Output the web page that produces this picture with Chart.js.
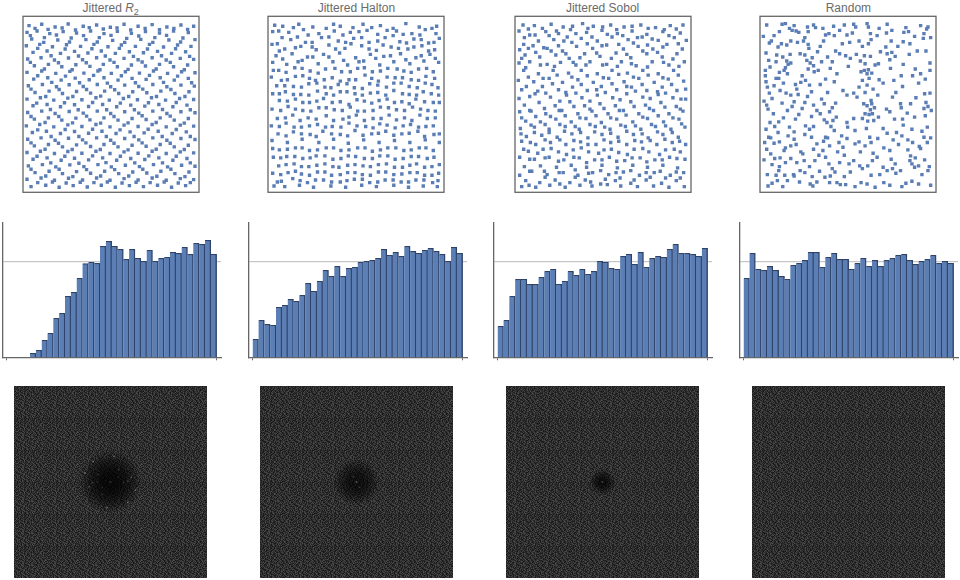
<!DOCTYPE html>
<html>
<head>
<meta charset="utf-8">
<script src="https://cdn.jsdelivr.net/npm/chart.js@4"></script>
<style>
  html, body { margin: 0; padding: 0; background: #fff; }
  canvas { position: absolute; }
  .ttl { position: absolute; top: 1px; width: 176px; text-align: center; font: 12px/14px "Liberation Sans", Arial, sans-serif; color: #6b6b6b; white-space: nowrap; }
  .ttl sub { font-size: 9px; line-height: 0; }
</style>
</head>
<body>
<script>
// titles of the four columns
const titles = ["Jittered <i>R</i><sub>2</sub>", "Jittered Halton", "Jittered Sobol", "Random"];

// top row: hand estimated dots, thinner than the real set (too many to read one by one)
// flat x,y pairs, one line per rough row
const r2Points = [
34,42,72,38,112,46,151,37,196,44,236,40,277,47,318,38,360,44,402,39,446,46,488,40,526,44,
28,62,58,58,96,66,136,60,176,64,218,58,258,66,298,59,340,65,382,60,424,64,466,58,510,63,
42,82,80,78,120,85,160,79,204,84,244,78,284,86,326,80,368,83,410,78,452,85,494,79,530,84,
26,102,66,98,104,105,146,99,188,104,228,98,270,105,310,100,352,104,394,98,436,106,478,100,518,104,
46,122,88,118,128,125,170,119,210,124,250,118,292,125,334,120,376,123,418,119,460,125,502,120,
30,142,70,138,110,145,152,139,194,144,236,138,276,145,318,140,360,144,402,138,444,145,486,140,526,143,
50,162,92,158,132,165,174,159,216,164,256,158,298,165,340,160,382,163,424,158,466,165,508,160,
28,182,72,178,114,185,156,179,198,184,240,178,280,185,322,180,364,184,406,178,448,185,490,180,530,183,
48,202,90,198,130,205,172,199,214,204,258,198,300,205,342,200,384,203,426,198,468,205,510,200,
32,222,74,218,116,225,154,219,196,224,238,218,278,225,320,220,362,224,404,218,446,225,488,220,528,223,
52,242,94,238,134,245,176,239,218,244,260,238,302,245,344,240,386,243,428,238,470,245,512,240,
28,262,68,258,108,265,150,259,192,264,234,258,274,265,316,260,358,264,400,258,442,265,484,260,526,263,
46,282,88,278,128,285,170,279,212,284,254,278,296,285,338,280,380,283,422,278,464,285,506,280,
30,302,72,298,112,305,154,299,196,304,238,298,278,305,320,300,362,304,404,298,446,305,488,300,530,303,
50,322,92,318,132,325,174,319,216,324,258,318,300,325,342,320,384,323,426,318,468,325,510,320,
26,342,66,338,108,345,150,339,192,344,234,338,276,345,318,340,360,344,402,338,444,345,486,340,526,343,
44,362,86,358,128,365,170,359,212,364,252,358,294,365,336,360,378,363,420,358,462,365,504,360,
30,382,70,378,112,385,152,379,194,384,236,378,278,385,320,380,362,384,404,378,446,385,488,380,530,383,
50,402,92,398,134,405,176,399,218,404,258,398,300,405,342,400,384,403,426,398,468,405,510,400,
28,422,68,418,110,425,150,419,192,424,234,418,276,425,318,420,360,424,402,418,444,425,486,420,526,423,
46,442,88,438,130,445,170,439,212,444,254,438,296,445,338,440,380,443,422,438,464,445,506,440,
32,462,74,458,114,465,156,459,198,464,240,458,280,465,322,460,364,464,406,458,448,465,490,460,530,463,
52,482,94,478,134,485,176,479,218,484,260,478,302,485,344,480,386,483,428,478,470,485,512,480,
28,502,70,498,110,505,152,499,194,504,236,498,276,505,318,500,360,504,402,498,444,505,486,500,526,503,
40,524,84,520,124,526,166,521,208,525,250,520,292,526,334,521,376,524,418,520,460,526,502,521
];
const r2Extra = [
52,50,91,53,133,49,173,55,214,48,256,52,297,49,338,55,381,50,424,54,467,50,508,53,
38,72,78,92,116,70,155,91,197,72,238,91,279,71,320,92,362,73,404,92,445,71,487,91,
60,110,100,132,142,112,182,133,222,111,262,133,304,110,346,134,388,112,430,132,472,111,514,134,
38,152,80,172,122,153,163,174,205,153,246,174,288,152,330,173,372,151,414,172,456,152,498,174,
60,192,102,212,143,193,185,213,227,191,268,214,310,192,352,213,394,191,436,212,478,193,520,213,
40,232,84,254,124,233,165,254,206,233,248,253,290,234,332,254,374,232,415,254,458,233,500,254,
57,274,98,293,140,273,181,294,224,272,266,294,307,274,349,294,391,273,433,293,474,272,516,294,
40,314,82,332,123,314,164,333,206,313,248,334,288,314,330,333,372,312,414,332,456,313,498,334,
60,354,100,374,142,353,183,374,224,352,265,374,306,354,348,374,390,352,432,374,474,353,516,374,
40,393,82,412,122,394,163,413,204,393,247,413,288,394,330,414,372,393,414,412,456,394,498,413,
58,433,99,453,141,433,183,454,224,432,264,452,307,433,350,453,392,432,433,453,474,433,516,453,
40,472,84,492,124,472,165,494,206,473,248,492,290,473,332,492,374,472,416,493,458,472,500,494,
60,512,104,510,145,513,187,511,228,512,268,510,312,513,354,511,396,512,438,510,480,513,516,512
];

const haltonPoints = [
36,41,60,44,108,38,150,46,212,38,232,44,270,48,300,38,352,42,390,50,428,36,468,46,520,44,
30,60,78,62,122,54,168,66,214,58,262,62,312,56,344,68,400,58,446,66,486,54,518,66,
44,96,84,84,128,92,176,78,226,88,272,80,318,92,366,78,410,90,452,82,496,94,528,80,
28,98,66,112,114,104,160,114,198,100,246,110,296,102,340,116,384,106,434,112,476,102,514,114,
40,132,88,126,134,136,182,128,230,124,278,138,322,128,362,134,412,126,458,138,500,128,
30,152,72,158,118,146,166,156,210,150,254,160,302,148,350,160,392,150,440,156,482,148,526,152,
48,176,96,168,142,178,188,172,236,180,284,170,328,180,374,170,422,178,466,172,510,180,
26,196,74,204,120,192,158,206,208,198,258,204,306,190,346,208,396,198,444,204,488,194,
42,222,92,224,138,216,186,226,226,218,274,228,320,216,370,226,414,214,462,228,506,218,
30,246,68,240,114,248,164,238,212,250,252,240,298,250,344,242,392,236,438,248,480,240,526,250,
50,266,98,262,140,272,182,260,232,270,282,264,326,274,372,262,416,270,458,262,510,272,
28,292,76,284,120,296,168,288,214,294,262,286,304,298,352,286,400,294,448,286,494,296,
44,320,90,310,136,318,190,312,240,322,280,310,330,320,378,310,424,318,470,310,516,318,
26,342,70,334,116,346,164,338,208,344,258,334,308,344,350,336,396,348,442,338,488,344,
46,366,92,360,142,368,180,358,232,368,276,356,326,366,368,358,416,366,464,358,512,368,
28,386,74,392,118,382,168,392,212,382,256,394,302,384,348,392,394,386,440,392,486,384,528,392,
50,414,98,408,140,416,190,408,234,416,284,408,328,418,374,408,422,416,468,408,510,416,
32,436,72,434,120,440,160,432,210,442,256,432,304,440,350,432,396,442,444,434,492,440,
48,462,94,456,138,464,186,456,228,466,276,458,322,464,370,456,418,466,460,456,506,464,
30,484,76,482,116,486,164,480,206,490,254,482,298,488,346,480,392,488,440,482,484,490,526,484,
44,510,90,500,134,512,182,504,232,510,274,502,320,512,366,504,414,510,458,504,508,512,
34,522,66,524,110,520,152,526,204,522,248,526,296,520,340,524,392,520,436,526,480,522,522,524
];
const haltonExtra = [
48,58,92,48,136,70,190,50,240,70,288,60,326,48,372,56,420,68,470,70,506,50,
58,78,104,76,148,92,198,76,248,92,296,78,344,88,390,72,430,94,474,84,512,92,
50,118,98,108,148,106,218,112,264,96,318,112,360,100,406,110,452,106,496,118,
60,142,106,150,150,136,198,136,242,146,288,150,338,140,382,132,428,144,474,132,516,140,
32,176,70,182,118,170,166,184,216,170,262,180,304,168,352,178,402,172,444,182,490,170,
56,206,98,194,140,200,184,204,232,208,278,204,326,200,372,196,418,198,466,206,514,200,
66,222,116,226,162,214,204,228,252,216,298,230,344,220,392,214,438,224,486,214,524,228,
50,246,92,248,138,250,190,246,232,240,276,246,322,244,368,250,418,246,460,250,504,246,
74,268,120,272,162,268,208,272,258,278,304,268,348,266,394,272,438,276,484,270,528,272,
54,296,98,292,144,298,190,288,238,296,284,298,330,296,376,288,424,296,472,292,516,298,
68,318,112,326,160,322,212,326,258,316,304,326,354,320,400,324,446,326,492,320,
50,344,94,346,140,342,188,346,234,346,282,342,330,348,372,340,420,342,466,346,510,342,
70,372,116,366,160,374,206,366,254,372,300,370,346,364,392,370,438,364,484,374,528,366,
30,410,74,412,118,408,164,414,212,408,258,414,306,408,352,414,398,408,444,414,488,408,
54,438,96,434,142,438,186,432,234,440,278,434,328,440,374,432,420,440,466,434,512,436,
70,458,116,464,162,460,210,464,254,460,300,462,346,458,394,466,440,460,484,466,528,458,
54,488,98,478,140,490,186,480,232,488,276,482,322,490,368,480,416,486,462,482,506,490,
56,508,112,506,158,504,206,510,252,506,298,502,344,510,390,504,436,510,482,504,524,506
];

const sobolPoints = [
40,40,74,42,124,38,160,46,218,36,250,44,302,40,342,46,392,40,436,48,480,42,518,40,
28,58,60,70,108,60,146,66,182,54,230,62,276,56,322,66,366,58,410,68,462,54,510,64,
42,98,86,88,132,84,172,76,214,80,262,88,306,76,354,84,396,76,444,86,492,78,528,86,
30,114,70,102,112,110,158,118,200,104,248,110,290,100,340,112,384,104,428,112,470,98,516,112,
46,130,90,136,138,130,178,140,224,126,270,134,318,124,362,138,410,126,456,136,500,126,
28,154,60,150,112,158,152,152,198,160,240,150,290,158,334,150,378,162,426,150,476,160,522,150,
42,176,86,186,130,176,176,184,214,176,262,186,306,176,352,184,398,176,444,186,490,176,
26,206,72,210,118,200,158,212,204,204,250,212,296,200,342,210,386,200,432,212,474,202,520,208,
50,224,98,224,146,234,188,226,232,236,274,224,320,234,364,226,410,236,456,226,500,236,
28,260,76,246,122,256,170,250,216,258,262,250,308,258,350,246,398,256,444,248,488,258,
44,280,88,272,136,282,180,270,224,282,270,276,316,282,362,270,406,280,452,272,498,284,526,262,
30,300,64,298,108,306,156,296,204,306,246,298,294,306,340,296,386,306,430,296,476,306,518,298,
48,328,92,330,138,322,184,330,228,320,274,332,320,322,368,330,412,320,460,330,506,322,
32,350,74,346,118,352,166,344,208,352,256,344,300,352,346,344,392,352,436,344,482,352,524,346,
50,374,96,370,142,376,186,366,234,378,276,368,324,376,370,368,414,378,458,368,504,376,
36,388,78,398,122,392,168,398,212,390,258,398,302,392,350,398,394,390,440,398,486,392,526,398,
56,418,100,412,146,420,190,414,236,420,282,414,326,422,372,412,416,420,466,414,510,420,
30,436,74,442,118,436,162,444,208,438,254,444,298,436,344,446,390,438,434,444,478,436,524,442,
44,464,92,462,140,466,184,460,230,466,276,460,322,468,368,460,412,466,458,460,502,468,
30,490,66,478,112,488,160,482,204,490,248,482,296,488,340,480,388,490,432,482,480,490,520,482,
48,506,90,512,136,504,180,512,226,504,272,516,316,506,362,514,408,504,454,514,498,506,
36,524,78,526,120,520,166,526,210,520,246,522,292,518,332,522,382,524,430,522,476,526,522,524
];
const sobolExtra = [
56,52,98,50,140,58,188,44,234,50,278,46,320,54,366,44,414,50,458,60,498,52,
44,78,76,70,118,72,162,88,198,66,246,76,292,68,338,72,382,78,426,82,476,72,
56,110,102,108,146,102,186,92,232,96,276,102,326,98,370,94,412,100,458,106,504,96,
36,140,78,122,124,118,168,126,210,138,260,124,304,140,350,128,398,118,442,122,488,142,
48,168,92,160,134,164,190,152,228,160,278,160,322,164,364,156,412,166,460,152,506,164,
56,196,100,200,142,190,186,196,232,192,280,198,326,188,370,196,414,190,458,198,504,190,
36,234,84,238,128,216,168,242,214,218,260,234,306,216,350,224,396,218,442,240,484,218,526,232,
60,254,108,244,150,268,198,244,240,268,286,242,330,264,376,238,420,260,466,244,512,262,
60,296,104,290,148,296,192,284,240,292,282,290,328,296,372,284,418,290,464,286,510,292,
36,318,78,314,122,314,166,312,210,318,258,312,302,318,348,310,398,316,444,312,488,318,
64,340,106,338,150,338,196,344,240,338,284,346,332,340,376,342,424,338,466,342,514,336,
34,366,74,362,118,362,164,358,212,362,254,360,302,364,350,358,396,366,442,360,486,362,
62,392,106,384,150,384,192,386,234,398,282,384,326,388,374,386,420,386,464,382,508,388,
42,412,84,424,124,410,170,428,214,408,266,424,304,412,352,428,398,410,448,428,492,412,
60,442,106,438,146,448,192,436,230,452,276,444,320,448,366,438,410,450,456,444,500,440,
60,478,104,478,148,482,196,474,236,484,272,476,318,482,362,476,408,482,450,478,498,480,
58,520,106,496,150,516,196,496,242,510,286,502,330,498,372,504,420,496,466,498,510,498
];

const randomPoints = [
36,40,82,38,92,36,118,42,158,46,176,40,236,44,268,40,296,38,336,36,396,38,452,48,496,42,518,46,
26,74,58,72,74,60,112,56,132,62,204,50,222,66,276,70,302,46,346,66,366,72,410,56,460,60,506,66,
44,94,80,96,96,100,128,92,146,88,206,88,238,72,284,92,340,96,408,88,444,90,478,74,504,80,526,78,
34,124,66,130,106,128,136,126,162,110,188,120,254,126,304,128,328,132,376,120,396,126,410,122,486,118,
100,158,92,168,108,154,156,146,166,154,160,172,200,150,232,150,272,132,330,156,370,156,404,144,444,158,524,154,
32,192,46,166,74,182,64,200,98,186,142,192,178,180,246,186,318,180,336,186,350,184,416,206,472,192,496,186,
38,226,58,222,122,218,164,220,212,202,264,236,312,226,336,220,354,232,384,214,442,224,510,202,
28,268,52,260,108,250,130,248,158,254,200,262,242,274,296,244,348,266,412,256,436,276,482,258,524,244,
40,292,98,296,112,284,150,272,186,296,232,288,336,282,346,294,358,288,394,292,438,288,506,290,518,284,
46,332,86,318,132,308,208,324,216,332,244,316,296,320,330,306,356,326,442,322,478,316,528,296,
34,352,70,362,104,346,152,342,164,352,238,356,278,346,334,350,396,364,444,340,500,358,
30,392,48,378,100,372,150,368,212,376,218,378,276,380,312,390,368,380,440,372,472,392,526,378,
36,412,92,408,88,416,124,398,186,396,224,402,264,406,330,402,386,408,430,398,492,404,516,392,
28,444,76,438,108,440,144,426,192,430,212,436,268,430,296,446,366,436,408,442,466,432,496,410,
52,458,74,464,126,452,164,464,232,470,254,452,338,462,384,466,412,470,464,446,490,462,522,464,
38,488,72,476,116,488,150,482,194,478,226,492,268,494,322,470,374,488,436,476,500,488,
40,522,68,506,98,506,118,492,166,516,186,510,246,512,256,518,300,524,336,516,386,512,452,514,470,508,526,520
];
const randomExtra = [
104,50,124,58,160,60,182,48,212,70,254,56,292,64,340,46,372,50,394,64,446,62,514,52,
50,88,70,106,108,88,150,78,160,98,196,104,262,96,312,88,322,104,348,84,392,106,428,104,464,96,
42,146,84,136,96,148,150,130,172,138,218,136,242,118,286,140,316,148,346,134,420,134,462,128,512,118,
32,176,64,150,88,176,176,162,190,176,226,170,280,164,328,176,340,174,360,160,406,170,480,172,524,176,
34,210,72,200,86,214,138,212,152,206,196,218,238,210,322,206,342,200,372,204,438,192,490,214,
44,244,76,236,94,244,126,232,170,240,218,242,276,250,306,256,330,242,350,276,368,250,422,242,508,246,
36,280,82,274,118,270,142,290,176,280,208,276,224,300,326,276,342,308,352,306,404,300,466,276,512,272,
56,306,72,330,122,322,170,314,196,306,234,326,276,332,322,320,338,328,370,316,418,322,456,304,510,312,
42,376,60,344,118,360,176,344,228,344,260,372,300,356,344,376,384,350,424,362,470,352,516,346,
58,394,74,390,118,382,170,376,206,388,252,392,300,396,348,392,414,384,458,384,506,376,
48,426,108,402,138,420,176,412,204,416,248,420,316,420,354,424,404,416,458,414,480,438,
60,440,92,452,148,446,180,446,222,456,282,456,314,462,352,446,420,456,470,456,508,444,
64,490,90,490,136,476,172,494,210,496,240,480,286,480,348,490,396,476,422,484,478,466,518,476,
52,514,84,524,134,510,174,522,224,512,272,518,318,512,360,526,404,520,440,524,490,516
];

// middle row: bar heights, 1 = the grey reference line
const r2Bars = [0,0,0,0,.042,.073,.177,.25,.406,.458,.635,.677,.823,.976,.99,.979,1.156,1.208,1.156,1.125,1.021,1.125,1.031,1,1.115,1,1.031,1.042,1.094,1.083,1.146,1.073,1.188,1.177,1.219,1.073];
const haltonBars = [.188,.385,.344,.333,.521,.542,.604,.583,.646,.771,.688,.792,.906,.844,.948,.844,.927,.938,.99,1,1.01,1.031,1.125,1.063,1.094,1.052,1.156,1.104,1.083,1.115,1.135,1.104,1.073,1,1.146,1.083];
const sobolBars = [.323,.385,.635,.813,.813,.76,.76,.833,.896,.917,.76,.792,.896,.854,.917,.865,.896,1,.99,.927,.917,1.052,1.073,.969,1.094,.938,1.031,1.052,1.042,1.125,1.177,1.083,1.083,1.073,1.052,1.135];
const randomBars = [.823,1.083,.917,.906,.948,.906,.844,.813,.958,.979,1.01,1.094,1.094,.938,1.042,1.083,1.021,1.021,.917,.979,1.031,.948,1.01,.948,1.01,1.031,1.063,1.073,1.01,.969,1,1.021,1.063,.979,1,.979];

// bottom row: bright specks around the centre, centre pixel, size of the dark hole
const r2Specks = [5,37,-25,30,12,18,-37,13,-18,11,11,7,30,7,-19,0,19,-1,-31,-7,-12,-8,36,-12,-12,-18,25,-30,-5,-37,-26,-1,25,1];
const haltonSpecks = [-4,7,4,-7];
const sobolSpecks = [];
const randomSpecks = [];
const centres = [[0, 0], [0, 0], [0, 0], []];
const r2Hole = [30,28,26,24,22,20,18,16,14,12,10,8];
const haltonHole = [22,20,18,16,14,12,10,8];
const sobolHole = [13,11,10,9,8,7,6,5,4,3];
const randomHole = [];

// grey levels of the background grain (one 32x32 tile, typed out)
const grain = [
"31524036271503426315204736150342","27403961253148072635194320761853","40318526093174265302481735260147","16250743821630594271360825143726",
"53741802365127406813592473018264","20946317542083615270346182597310","38152660291745382043176524830961","61403728350692147385206413972548",
"05273914682350146297331058472613","42861350174932608152743660235917","73015286409165237048512938461720","19342670528314960723185406237584",
"64208153726041873591624307851432","35796021483527106348209571364028","80413657219068342715930482167359","27150384963142758026471365208491",
"46392810574236190583627149035728","13608542971684302751486023571946","59271036482015793864210765348102","32840619753402185697342081926473",
"08563172490738261450837296154380","71429350816254073128590643271865","24036785123960484372106518493027","96310248657132805694273851026374",
"40752163089341627038154962738510","15483920674285310762498031562849","62097418350671943285061734289153","38261507942358076410853296017364",
"07149632586024713956372184053628","54830271619483025367940625817132","21673840952176348091527360489245","83506192743058612749360215846073"
];

function pairs(flat) {
  const out = [];
  for (let i = 0; i < flat.length; i += 2) out.push({ x: flat[i], y: flat[i + 1] });
  return out;
}

// a canvas at a fixed place on the page
function place(left, top, w, h) {
  const c = document.createElement("canvas");
  c.width = w;
  c.height = h;
  c.style.left = left + "px";
  c.style.top = top + "px";
  document.body.appendChild(c);
  return c;
}

const frame = {
  id: "frame",
  afterDatasetsDraw(chart) {
    const a = chart.chartArea, ctx = chart.ctx;
    ctx.save();
    ctx.strokeStyle = "#666";
    ctx.lineWidth = 1.3;
    ctx.strokeRect(a.left, a.top, a.right - a.left, a.bottom - a.top);
    ctx.restore();
  },
};

// grain tile -> pattern, painted behind the datasets
const tile = document.createElement("canvas");
tile.width = tile.height = 32;
const tctx = tile.getContext("2d");
grain.forEach(function(row, y) {
  for (let x = 0; x < 32; x++) {
    const g = 22 + Number(row[x]) * 6;
    tctx.fillStyle = "rgb(" + g + "," + g + "," + g + ")";
    tctx.fillRect(x, y, 1, 1);
  }
});
const noiseBack = {
  id: "noiseBack",
  beforeDatasetsDraw(chart) {
    const ctx = chart.ctx;
    ctx.save();
    ctx.fillStyle = ctx.createPattern(tile, "repeat");
    ctx.fillRect(0, 0, chart.width, chart.height);
    ctx.restore();
  },
};

const hidden = { display: false };

function dotsChart(left, points) {
  new Chart(place(left - 4, 12, 184, 185), {
    type: "scatter",
    data: { datasets: [{ data: pairs(points), pointStyle: "rect", pointRadius: 2.4, pointBorderWidth: 0, pointBackgroundColor: "#5a7db5" }] },
    plugins: [frame],
    options: {
      responsive: false,
      animation: false,
      layout: { padding: { left: 4, right: 4, top: 4.3, bottom: 4.7 } },
      plugins: { legend: hidden, tooltip: { enabled: false } },
      scales: {
        x: { min: 16, max: 542, display: false },
        y: { min: 14, max: 541, reverse: true, display: false },
      },
    },
  });
}

function barsChart(left, values) {
  new Chart(place(left, 215, 226, 150), {
    type: "bar",
    data: {
      datasets: [{
        data: values.map((v, i) => ({ x: i + 0.5, y: v })),
        backgroundColor: "#5b7eb5",
        borderColor: "#2f4268",
        borderWidth: { top: 1.2, right: 1.4, left: 0, bottom: 0 },
        barPercentage: 1,
        categoryPercentage: 1,
      }],
    },
    options: {
      responsive: false,
      animation: false,
      layout: { padding: { left: 2.3, right: 5, top: 7.3, bottom: 4.7 } },
      plugins: { legend: hidden, tooltip: { enabled: false } },
      scales: {
        x: {
          type: "linear",
          offset: false,
          min: -0.75,
          max: 36.75,
          afterBuildTicks: (axis) => { axis.ticks = [{ value: 0 }, { value: 36 }]; },
          ticks: { display: false },
          grid: { offset: false, drawOnChartArea: false, tickLength: 3, tickColor: "#666", tickWidth: 1 },
          border: { color: "#666", width: 1.3 },
        },
        y: {
          min: 0,
          max: 1.406,
          afterBuildTicks: (axis) => { axis.ticks = [{ value: 1 }]; },
          ticks: { display: false },
          grid: { drawTicks: false, color: "#c6c6c6", lineWidth: 1.2 },
          border: { color: "#666", width: 1.3 },
        },
      },
    },
  });
}

function noiseChart(left, specks, hole, centre) {
  new Chart(place(left, 386, 193, 192), {
    type: "scatter",
    data: {
      datasets: [
        {
          data: hole.map(() => ({ x: 0, y: 0 })),
          pointRadius: hole,
          pointBorderWidth: 0,
          pointBackgroundColor: "rgba(0,0,0,0.11)",
        },
        {
          data: pairs(specks),
          pointStyle: "rect",
          pointRadius: 1,
          pointBorderWidth: 0,
          pointBackgroundColor: "#9a9a9a",
        },
        {
          data: pairs(centre),
          pointStyle: "rect",
          pointRadius: 1.2,
          pointBorderWidth: 0,
          pointBackgroundColor: "#e8e8e8",
        },
      ],
    },
    plugins: [noiseBack],
    options: {
      responsive: false,
      animation: false,
      plugins: { legend: hidden, tooltip: { enabled: false } },
      scales: {
        x: { min: -96.5, max: 96.5, display: false },
        y: { min: -96, max: 96, display: false },
      },
    },
  });
}

[22.7, 268.4, 514.6, 760.4].forEach(function(left, i) {
  const t = document.createElement("div");
  t.className = "ttl";
  t.style.left = left + "px";
  t.innerHTML = titles[i];
  document.body.appendChild(t);
  const pts = [r2Points.concat(r2Extra), haltonPoints.concat(haltonExtra), sobolPoints.concat(sobolExtra), randomPoints.concat(randomExtra)][i];
  dotsChart(left, pts);
});
[0, 246, 491, 737].forEach(function(left, i) {
  barsChart(left, [r2Bars, haltonBars, sobolBars, randomBars][i]);
});
[14, 260, 506, 752].forEach(function(left, i) {
  noiseChart(left, [r2Specks, haltonSpecks, sobolSpecks, randomSpecks][i], [r2Hole, haltonHole, sobolHole, randomHole][i], centres[i]);
});
</script>
</body>
</html>
